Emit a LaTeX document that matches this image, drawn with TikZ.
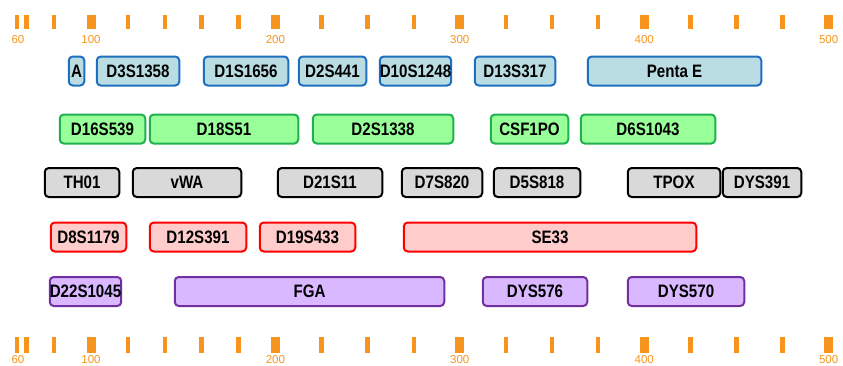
\documentclass[tikz,border=0pt]{standalone}
\usepackage{fontspec}
\usepackage{xcolor}
\usepackage{tikz}
\newfontfamily\locfont{Liberation Sans}[FakeStretch=0.84]
\newfontfamily\scalefont{Liberation Sans}
\definecolor{scaleor}{HTML}{F7941D}
\definecolor{bluline}{HTML}{1F6FC0}
\definecolor{blufill}{HTML}{B9DDE3}
\definecolor{grnline}{HTML}{1FB050}
\definecolor{grnfill}{HTML}{99FF99}
\definecolor{gryfill}{HTML}{D9D9D9}
\definecolor{rdfill}{HTML}{FFCCCC}
\definecolor{violine}{HTML}{7030A0}
\definecolor{viofill}{HTML}{D9B8FF}

\begin{document}
\begin{tikzpicture}[
    x=1pt,y=-1pt,
    loc/.style  = {rectangle, rounded corners=4pt, line width=2pt,
                   minimum height=29pt, inner sep=0pt,
                   font=\locfont\bfseries\fontsize{18}{20}\selectfont},
    blu/.style  = {loc, draw=bluline, fill=blufill},
    grn/.style  = {loc, draw=grnline, fill=grnfill},
    gry/.style  = {loc, draw=black, fill=gryfill},
    rd/.style   = {loc, draw=red, fill=rdfill},
    vio/.style  = {loc, draw=violine, fill=viofill},
    tck/.style  = {fill=scaleor, draw=none},
    tcklab/.style = {font=\scalefont\fontsize{11.5}{12}\selectfont, text=scaleor,
                   inner sep=0pt},
  ]

  \useasboundingbox (0,0) rectangle (843,365);

  % size scale, top and bottom
  \foreach \v in {60,65,80,120,140,160,180,225,250,275,325,350,375,425,450,475}{
    \fill[tck] ({91+(\v-100)*1.844-2.2},15) rectangle ++(4.4,14);
    \fill[tck] ({91+(\v-100)*1.844-2.2},337) rectangle ++(4.4,16);}
  \foreach \v in {100,200,300,400,500}{
    \fill[tck] ({91+(\v-100)*1.844-4.5},15) rectangle ++(9,14);
    \fill[tck] ({91+(\v-100)*1.844-4.5},337) rectangle ++(9,16);
    \node[tcklab] (top\v) at ({91+(\v-100)*1.844},39.5) {\v};
    \node[tcklab] (bot\v) at ({91+(\v-100)*1.844},359.5) {\v};}
  \node[tcklab] (top60) at (18,39.5) {60};
  \node[tcklab] (bot60) at (18,359.5) {60};

  % blue dye
  \node[blu, minimum width=15.5pt]  (a)        at (76.5,71) {A};
  \node[blu, minimum width=82.5pt]  (d3s1358)  at (138,71)  {D3S1358};
  \node[blu, minimum width=84.5pt]  (d1s1656)  at (246,71)  {D1S1656};
  \node[blu, minimum width=67.5pt]  (d2s441)   at (332.5,71) {D2S441};
  \node[blu, minimum width=67.5pt]  (d10s1248) at (415.5,71) {D10S1248};
  \node[blu, minimum width=80.5pt]  (d13s317)  at (515,71)  {D13S317};
  \node[blu, minimum width=173.5pt] (pentae)   at (674.5,71) {Penta E};

  % green dye
  \node[grn, minimum width=85.5pt]  (d16s539)  at (102.5,129) {D16S539};
  \node[grn, minimum width=148.5pt] (d18s51)   at (224,129)   {D18S51};
  \node[grn, minimum width=140.5pt] (d2s1338)  at (383,129)   {D2S1338};
  \node[grn, minimum width=77.5pt]  (csf1po)   at (529.5,129) {CSF1PO};
  \node[grn, minimum width=134.5pt] (d6s1043)  at (648,129)   {D6S1043};

  % yellow dye (shown gray)
  \node[gry, minimum width=74.5pt]  (th01)     at (82,182.5)  {TH01};
  \node[gry, minimum width=108.5pt] (vwa)      at (187,182.5) {vWA};
  \node[gry, minimum width=104.5pt] (d21s11)   at (330,182.5) {D21S11};
  \node[gry, minimum width=80.5pt]  (d7s820)   at (442,182.5) {D7S820};
  \node[gry, minimum width=86.5pt]  (d5s818)   at (537,182.5) {D5S818};
  \node[gry, minimum width=92.5pt]  (tpox)     at (674,182.5) {TPOX};
  \node[gry, minimum width=78.5pt]  (dys391)   at (762,182.5) {DYS391};

  % red dye
  \node[rd, minimum width=75.5pt]   (d8s1179)  at (88.5,237)  {D8S1179};
  \node[rd, minimum width=96.5pt]   (d12s391)  at (198,237)   {D12S391};
  \node[rd, minimum width=95.5pt]   (d19s433)  at (307.5,237) {D19S433};
  \node[rd, minimum width=292.5pt]  (se33)     at (550,237)   {SE33};

  % purple dye
  \node[vio, minimum width=69.5pt]  (d22s1045) at (85.5,291.5) {D22S1045};
  \node[vio, minimum width=269.5pt] (fga)      at (309.5,291.5) {FGA};
  \node[vio, minimum width=104.5pt] (dys576)   at (535,291.5)  {DYS576};
  \node[vio, minimum width=116.5pt] (dys570)   at (686,291.5)  {DYS570};

\end{tikzpicture}
\end{document}
